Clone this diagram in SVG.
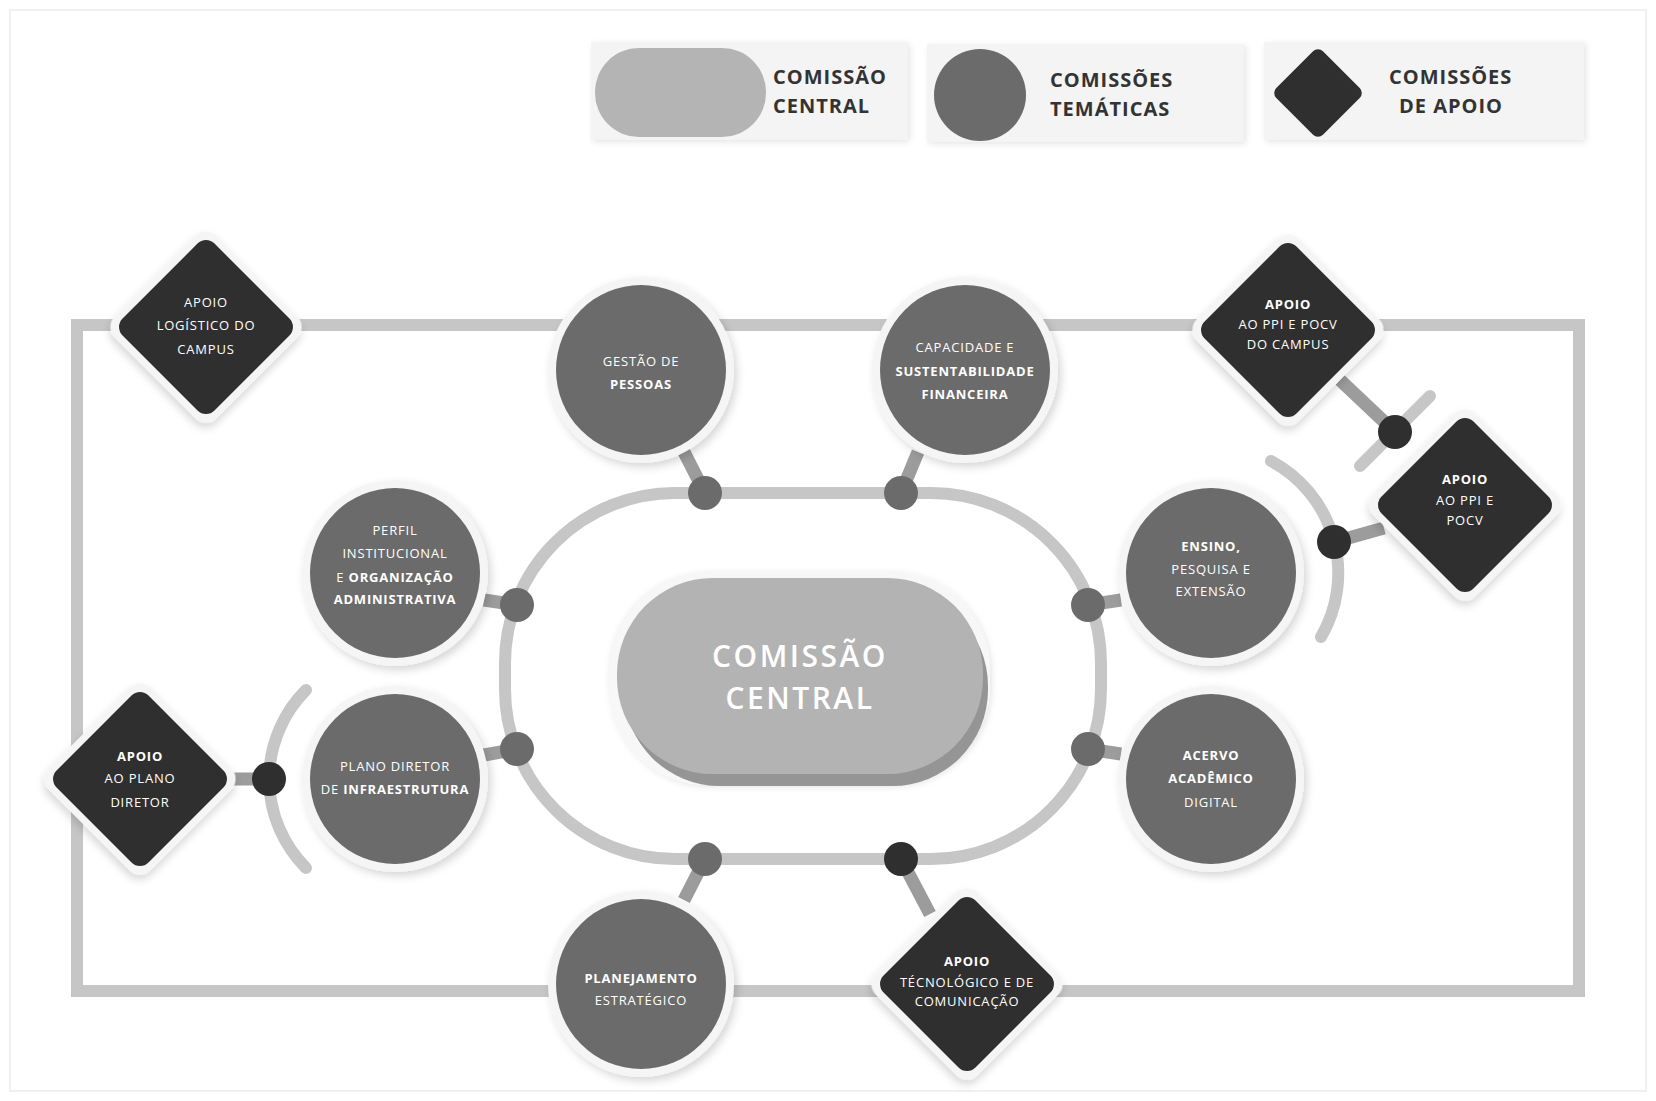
<svg xmlns="http://www.w3.org/2000/svg" width="1656" height="1101" viewBox="0 0 1656 1101">
<style>
.line{fill:none;stroke:#c6c6c6;stroke-width:12;stroke-linecap:round}
.stub{stroke:#9c9c9c;stroke-width:13;stroke-linecap:butt}
.dot{fill:#6b6b6b}
.dotd{fill:#2f2f2f}
.halo{fill:#f5f5f5;filter:url(#sh)}
.th{fill:#6b6b6b}
.sup{fill:#2f2f2f}
.t{font-family:"Open Sans","Liberation Sans",sans-serif;font-size:13px;letter-spacing:0.8px;fill:#ffffff;text-anchor:middle;font-weight:400}
.b{font-weight:700}
.lg{font-family:"Open Sans","Liberation Sans",sans-serif;font-size:20px;font-weight:700;letter-spacing:1px;fill:#333333}
.panel{fill:#f4f4f4}
</style>
<defs>
<filter id="sh" x="-20%" y="-20%" width="140%" height="140%">
<feDropShadow dx="3" dy="4" stdDeviation="4" flood-color="#000" flood-opacity="0.16"/>
</filter>
<filter id="sh2" x="-20%" y="-20%" width="140%" height="140%">
<feDropShadow dx="2" dy="2" stdDeviation="3" flood-color="#000" flood-opacity="0.1"/>
</filter>
</defs>
<rect width="1656" height="1101" fill="#ffffff"/>
<rect x="10" y="10" width="1636" height="1081" fill="none" stroke="#f0f0f0" stroke-width="2"/>

<g id="legend">
<rect class="panel" x="591" y="42" width="317" height="98" filter="url(#sh2)"/>
<rect x="595" y="48" width="171" height="89" rx="44" fill="#b4b4b4"/>
<text class="lg" x="773" y="84">COMISSÃO</text>
<text class="lg" x="773" y="113">CENTRAL</text>
<rect class="panel" x="927" y="44" width="317" height="98" filter="url(#sh2)"/>
<circle cx="980" cy="95" r="46" fill="#6b6b6b"/>
<text class="lg" x="1050" y="87">COMISSÕES</text>
<text class="lg" x="1050" y="116">TEMÁTICAS</text>
<rect class="panel" x="1264" y="42" width="320" height="98" filter="url(#sh2)"/>
<rect x="-33" y="-33" width="66" height="66" rx="7" fill="#2f2f2f" transform="translate(1318 93) rotate(45)"/>
<text class="lg" x="1389" y="84">COMISSÕES</text>
<text class="lg" x="1399" y="113">DE APOIO</text>
</g>

<g id="connectors">
<rect class="line" x="77" y="325" width="1502" height="666" stroke-linecap="butt"/>
<rect class="line" x="505" y="493" width="596" height="366" rx="170" ry="170"/>
<path class="line" d="M1271 461 A127 127 0 0 1 1321 637"/>
<path class="line" d="M306 690 A126 126 0 0 0 306 868"/>
<line class="line" x1="1430" y1="396" x2="1360" y2="466"/>
<line class="stub" x1="705" y1="493" x2="684" y2="452"/>
<line class="stub" x1="901" y1="493" x2="918" y2="452"/>
<line class="stub" x1="517" y1="605" x2="484" y2="600"/>
<line class="stub" x1="517" y1="749" x2="484" y2="755"/>
<line class="stub" x1="1088" y1="605" x2="1121" y2="600"/>
<line class="stub" x1="1088" y1="749" x2="1121" y2="754"/>
<line class="stub" x1="705" y1="859" x2="684" y2="900"/>
<line class="stub" x1="901" y1="859" x2="930" y2="914"/>
<line class="stub" x1="1334" y1="542" x2="1384" y2="528"/>
<line class="stub" x1="1340" y1="380" x2="1395" y2="432"/>
<line class="stub" x1="228" y1="779" x2="269" y2="779"/>
<circle class="dot" cx="705" cy="493" r="17"/>
<circle class="dot" cx="901" cy="493" r="17"/>
<circle class="dot" cx="517" cy="605" r="17"/>
<circle class="dot" cx="517" cy="749" r="17"/>
<circle class="dot" cx="1088" cy="605" r="17"/>
<circle class="dot" cx="1088" cy="749" r="17"/>
<circle class="dot" cx="705" cy="859" r="17"/>
<circle class="dotd" cx="901" cy="859" r="17"/>
<circle class="dotd" cx="1334" cy="542" r="17"/>
<circle class="dotd" cx="1395" cy="432" r="17"/>
<circle class="dotd" cx="269" cy="779" r="17"/>
</g>

<g id="central">
<rect x="608" y="571" width="382" height="214" rx="100" fill="#f7f7f7" filter="url(#sh2)"/>
<rect x="624" y="590" width="364" height="196" rx="96" fill="#959595"/>
<rect x="617" y="578" width="366" height="196" rx="96" fill="#b3b3b3"/>
<text x="800" y="667" font-family="'Open Sans','Liberation Sans',sans-serif" font-size="30" font-weight="600" letter-spacing="2.5" fill="#ffffff" text-anchor="middle">COMISSÃO</text>
<text x="800" y="709" font-family="'Open Sans','Liberation Sans',sans-serif" font-size="30" font-weight="600" letter-spacing="2.5" fill="#ffffff" text-anchor="middle">CENTRAL</text>
</g>

<g id="gestao-pessoas">
<circle class="halo" cx="641" cy="370" r="93"/>
<circle class="th" cx="641" cy="370" r="85"/>
<text class="t" x="641" y="366">GESTÃO DE</text>
<text class="t b" x="641" y="389">PESSOAS</text>
</g>

<g id="capacidade">
<circle class="halo" cx="965" cy="370" r="93"/>
<circle class="th" cx="965" cy="370" r="85"/>
<text class="t" x="965" y="352">CAPACIDADE E</text>
<text class="t b" x="965" y="376">SUSTENTABILIDADE</text>
<text class="t b" x="965" y="399">FINANCEIRA</text>
</g>

<g id="perfil">
<circle class="halo" cx="395" cy="573" r="93"/>
<circle class="th" cx="395" cy="573" r="85"/>
<text class="t" x="395" y="535">PERFIL</text>
<text class="t" x="395" y="558">INSTITUCIONAL</text>
<text class="t" x="395" y="582">E <tspan class="b">ORGANIZAÇÃO</tspan></text>
<text class="t b" x="395" y="604">ADMINISTRATIVA</text>
</g>

<g id="plano-diretor">
<circle class="halo" cx="395" cy="779" r="93"/>
<circle class="th" cx="395" cy="779" r="85"/>
<text class="t" x="395" y="771">PLANO DIRETOR</text>
<text class="t" x="395" y="794">DE <tspan class="b">INFRAESTRUTURA</tspan></text>
</g>

<g id="ensino">
<circle class="halo" cx="1211" cy="573" r="93"/>
<circle class="th" cx="1211" cy="573" r="85"/>
<text class="t b" x="1211" y="551">ENSINO,</text>
<text class="t" x="1211" y="574">PESQUISA E</text>
<text class="t" x="1211" y="596">EXTENSÃO</text>
</g>

<g id="acervo">
<circle class="halo" cx="1211" cy="779" r="93"/>
<circle class="th" cx="1211" cy="779" r="85"/>
<text class="t b" x="1211" y="760">ACERVO</text>
<text class="t b" x="1211" y="783">ACADÊMICO</text>
<text class="t" x="1211" y="807">DIGITAL</text>
</g>

<g id="planejamento">
<circle class="halo" cx="641" cy="984" r="93"/>
<circle class="th" cx="641" cy="984" r="85"/>
<text class="t b" x="641" y="983">PLANEJAMENTO</text>
<text class="t" x="641" y="1005">ESTRATÉGICO</text>
</g>

<g id="apoio-logistico">
<rect class="halo" x="-72" y="-72" width="144" height="144" rx="15" transform="translate(206 327) rotate(45)"/>
<rect class="sup" x="-65" y="-65" width="130" height="130" rx="12" transform="translate(206 327) rotate(45)"/>
<text class="t" x="206" y="307">APOIO</text>
<text class="t" x="206" y="330">LOGÍSTICO DO</text>
<text class="t" x="206" y="354">CAMPUS</text>
</g>

<g id="apoio-ppi-campus">
<rect class="halo" x="-72" y="-72" width="144" height="144" rx="15" transform="translate(1288 330) rotate(45)"/>
<rect class="sup" x="-65" y="-65" width="130" height="130" rx="12" transform="translate(1288 330) rotate(45)"/>
<text class="t b" x="1288" y="309">APOIO</text>
<text class="t" x="1288" y="329">AO PPI E POCV</text>
<text class="t" x="1288" y="349">DO CAMPUS</text>
</g>

<g id="apoio-ppi">
<rect class="halo" x="-72" y="-72" width="144" height="144" rx="15" transform="translate(1465 505) rotate(45)"/>
<rect class="sup" x="-65" y="-65" width="130" height="130" rx="12" transform="translate(1465 505) rotate(45)"/>
<text class="t b" x="1465" y="484">APOIO</text>
<text class="t" x="1465" y="505">AO PPI E</text>
<text class="t" x="1465" y="525">POCV</text>
</g>

<g id="apoio-plano-diretor">
<rect class="halo" x="-72" y="-72" width="144" height="144" rx="15" transform="translate(140 779) rotate(45)"/>
<rect class="sup" x="-65" y="-65" width="130" height="130" rx="12" transform="translate(140 779) rotate(45)"/>
<text class="t b" x="140" y="761">APOIO</text>
<text class="t" x="140" y="783">AO PLANO</text>
<text class="t" x="140" y="807">DIRETOR</text>
</g>

<g id="apoio-tecnologico">
<rect class="halo" x="-72" y="-72" width="144" height="144" rx="15" transform="translate(967 984) rotate(45)"/>
<rect class="sup" x="-65" y="-65" width="130" height="130" rx="12" transform="translate(967 984) rotate(45)"/>
<text class="t b" x="967" y="966">APOIO</text>
<text class="t" x="967" y="987">TÉCNOLÓGICO E DE</text>
<text class="t" x="967" y="1006">COMUNICAÇÃO</text>
</g>
</svg>
